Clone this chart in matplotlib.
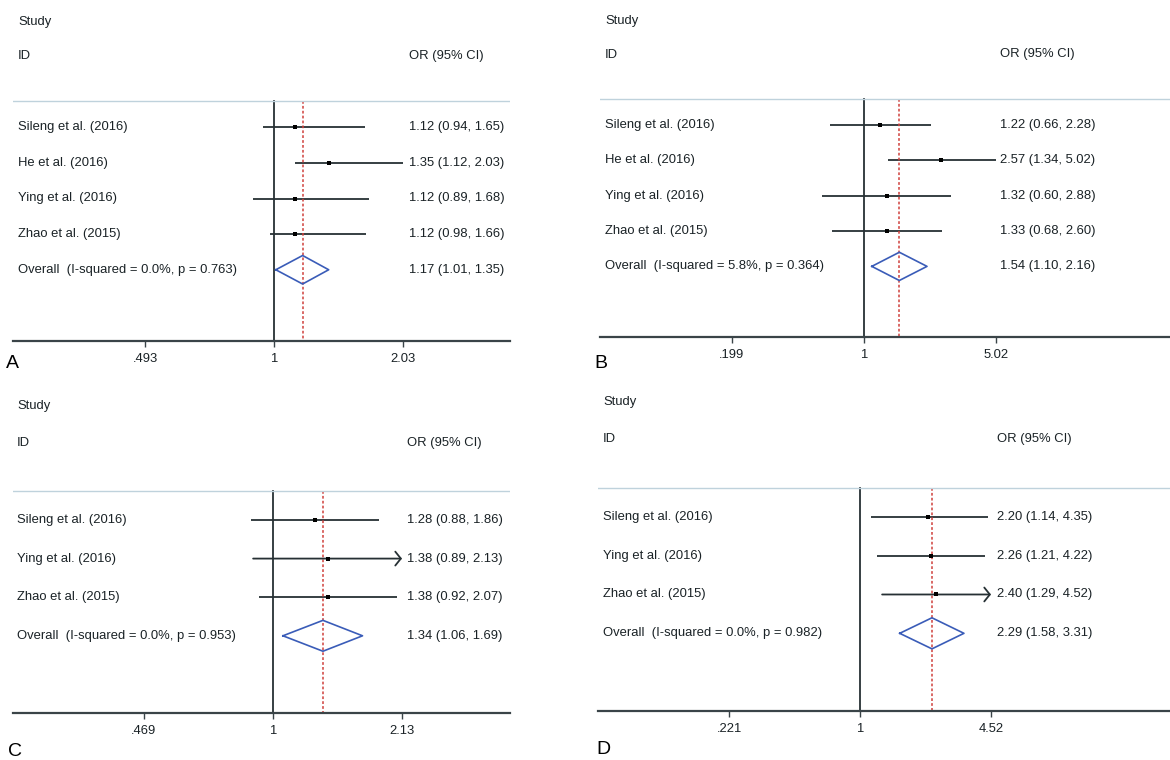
import numpy as np
import matplotlib
matplotlib.use("Agg")
import matplotlib.pyplot as plt
import matplotlib.transforms as mtransforms

plt.rcParams['font.family'] = ['Liberation Sans', 'DejaVu Sans']

W, H = 1170, 760

# ---- data for the four subgroup meta-analyses ----
studies_4 = ['Sileng et al. (2016)', 'He et al. (2016)', 'Ying et al. (2016)', 'Zhao et al. (2015)']
studies_3 = ['Sileng et al. (2016)', 'Ying et al. (2016)', 'Zhao et al. (2015)']

or_a = [1.12, 1.35, 1.12, 1.12]
lo_a = [0.94, 1.12, 0.89, 0.98]
hi_a = [1.65, 2.03, 1.68, 1.66]
pooled_a = (1.17, 1.01, 1.35)
het_a = (0.0, 0.763)
ticks_a = ['.493', '1', '2.03']

or_b = [1.22, 2.57, 1.32, 1.33]
lo_b = [0.66, 1.34, 0.60, 0.68]
hi_b = [2.28, 5.02, 2.88, 2.60]
pooled_b = (1.54, 1.10, 2.16)
het_b = (5.8, 0.364)
ticks_b = ['.199', '1', '5.02']

or_c = [1.28, 1.38, 1.38]
lo_c = [0.88, 0.89, 0.92]
hi_c = [1.86, 2.13, 2.07]
pooled_c = (1.34, 1.06, 1.69)
het_c = (0.0, 0.953)
ticks_c = ['.469', '1', '2.13']
arrows_c = [False, True, False]

or_d = [2.20, 2.26, 2.40]
lo_d = [1.14, 1.21, 1.29]
hi_d = [4.35, 4.22, 4.52]
pooled_d = (2.29, 1.58, 3.31)
het_d = (0.0, 0.982)
ticks_d = ['.221', '1', '4.52']
arrows_d = [False, False, True]

LINE = '#263034'
TEXT = '#1a2226'
FS = 9.4


def forest(box, one_px, top_px, ticks, names, ors, los, his, pooled, het,
           arrows=None, text_px=None, letter=None, letter_xy=None):
    '''Draws one Stata-style forest plot inside a pixel box (x0, y0, x1, y1).'''
    x0, y0, x1, y1 = box
    ax = fig.add_axes([x0 / W, 1 - y1 / H, (x1 - x0) / W, (y1 - y0) / H])
    ax.set_xscale('log')
    hi_tick = float(ticks[2])
    k = (top_px - one_px) / np.log(hi_tick)          # pixels per log unit
    ax.set_xlim(np.exp((x0 - one_px) / k), np.exp((x1 - one_px) / k))
    n = len(names)
    ax.set_ylim(n + 2, -3.6)
    if arrows is None:
        arrows = [False] * n

    # study rows
    for i in range(n):
        if arrows[i]:
            ax.annotate('', xy=(his[i], i), xytext=(los[i], i),
                        arrowprops=dict(arrowstyle='->,head_length=0.4,head_width=0.5',
                                        color=LINE, lw=1.3, shrinkA=0, shrinkB=0,
                                        mutation_scale=10))
        else:
            ax.plot([los[i], his[i]], [i, i], color=LINE, lw=1.3, solid_capstyle='butt')
        ax.plot(ors[i], i, marker='s', ms=3.4, mew=0, color='black', zorder=5)

    # pooled estimate diamond
    est, plo, phi = pooled
    ax.plot([plo, est, phi, est, plo], [n, n - 0.4, n, n + 0.4, n],
            color='#3a5cb8', lw=1.2, zorder=4)

    # null line, pooled line and header separator
    ax.plot([1, 1], [-0.75, n + 2], color=LINE, lw=1.3)
    ax.plot([est, est], [-0.75, n + 2], color='#d0403c', lw=1.1,
            linestyle=(0, (1.8, 1.4)))
    ax.axhline(-0.75, color='#bfd2dc', lw=1.0)

    # text columns
    tl = mtransforms.blended_transform_factory(ax.transAxes, ax.transData)
    xl = (text_px[0] - x0) / (x1 - x0)
    xr = (text_px[1] - x0) / (x1 - x0)
    kw = dict(fontsize=FS, color=TEXT, va='center', transform=tl)
    ax.text(xl, -2.95, 'Study', **kw)
    ax.text(xl, -2.0, 'ID', **kw)
    ax.text(xr, -2.0, 'OR (95% CI)', **kw)
    for i in range(n):
        ax.text(xl, i, names[i], **kw)
        ax.text(xr, i, f'{ors[i]:.2f} ({los[i]:.2f}, {his[i]:.2f})', **kw)
    ax.text(xl, n, f'Overall  (I-squared = {het[0]:.1f}%, p = {het[1]:.3f})', **kw)
    ax.text(xr, n, f'{est:.2f} ({plo:.2f}, {phi:.2f})', **kw)

    # axis
    for s in ['top', 'left', 'right']:
        ax.spines[s].set_visible(False)
    ax.spines['bottom'].set_color('#3a4448')
    ax.spines['bottom'].set_linewidth(1.6)
    ax.set_yticks([])
    ax.set_xticks([1 / hi_tick, 1, hi_tick])
    ax.set_xticklabels(ticks)
    ax.xaxis.set_minor_locator(matplotlib.ticker.NullLocator())
    ax.tick_params(axis='x', length=4, width=1, color='#3a4448', pad=5,
                   labelsize=FS, labelcolor=TEXT)
    ax.patch.set_alpha(0)

    fig.text(letter_xy[0] / W, 1 - letter_xy[1] / H, letter, fontsize=14,
             color='black', ha='center', va='center')
    return ax


fig = plt.figure(figsize=(W / 100, H / 100), dpi=100)
fig.patch.set_facecolor('white')

forest((13, -1, 510, 341), 274, 403, ticks_a, studies_4, or_a, lo_a, hi_a,
       pooled_a, het_a, text_px=(18, 409), letter='A', letter_xy=(12, 363))
forest((600, -2, 1170, 337), 864, 996, ticks_b, studies_4, or_b, lo_b, hi_b,
       pooled_b, het_b, text_px=(605, 1000), letter='B', letter_xy=(601, 363))
forest((13, 381, 510, 713), 273, 402, ticks_c, studies_3, or_c, lo_c, hi_c,
       pooled_c, het_c, arrows=arrows_c, text_px=(17, 407), letter='C',
       letter_xy=(15, 752))
forest((598, 377, 1170, 711), 860, 991, ticks_d, studies_3, or_d, lo_d, hi_d,
       pooled_d, het_d, arrows=arrows_d, text_px=(603, 997), letter='D',
       letter_xy=(603, 750))

fig.savefig('out.png', dpi=100)
